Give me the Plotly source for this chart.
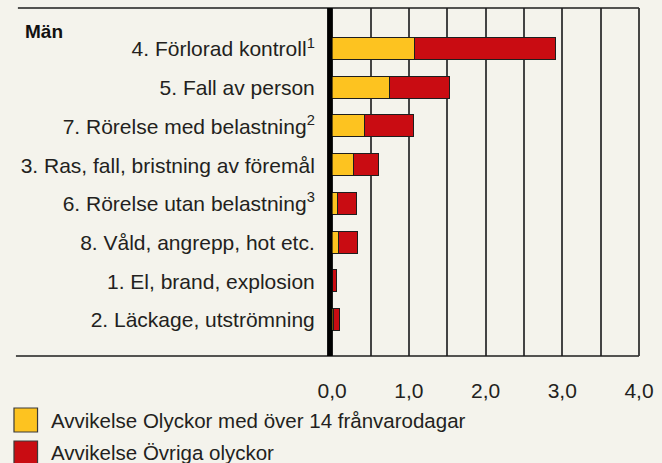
import plotly.graph_objects as go

categories = [
    "4. Förlorad kontroll<sup>1</sup>",
    "5. Fall av person",
    "7. Rörelse med belastning<sup>2</sup>",
    "3. Ras, fall, bristning av föremål",
    "6. Rörelse utan belastning<sup>3</sup>",
    "8. Våld, angrepp, hot etc.",
    "1. El, brand, explosion",
    "2. Läckage, utströmning",
]
over14 = [1.08, 0.755, 0.43, 0.285, 0.08, 0.09, 0.005, 0.02]
ovriga = [1.84, 0.785, 0.64, 0.325, 0.24, 0.245, 0.06, 0.08]
series_names = ["Avvikelse Olyckor med över 14 frånvarodagar", "Avvikelse Övriga olyckor"]
tick_vals = [0, 1, 2, 3, 4]
tick_text = ["0,0", "1,0", "2,0", "3,0", "4,0"]
group_title = "Män"

BG = "#f4f3ec"
YELLOW = "#fdc320"
RED = "#c90c12"
EDGE = "#1e1e1e"
TXT = "#231f20"
FONT = "Liberation Sans, Arial, sans-serif"

W, H = 662, 463
L, R, T, B = 326, 17, 8, 107
PW, PH = W - L - R, H - T - B

def px(x):
    return (x - L) / PW

def py(y):
    return (H - B - y) / PH

fig = go.Figure()
for vals, name, col in [(over14, series_names[0], YELLOW), (ovriga, series_names[1], RED)]:
    fig.add_trace(go.Bar(
        y=categories, x=vals, name=name, orientation="h",
        marker=dict(color=col, line=dict(color=EDGE, width=1.5)),
        width=0.57, showlegend=False,
    ))

shapes = []
shapes.append(dict(type="line", xref="paper", yref="paper", x0=px(12), x1=1, y0=1, y1=1,
                   line=dict(color=EDGE, width=1.6)))
shapes.append(dict(type="line", xref="paper", yref="paper", x0=px(10), x1=1, y0=0, y1=0,
                   line=dict(color=EDGE, width=1.6)))
shapes.append(dict(type="line", xref="paper", yref="paper", x0=1, x1=1, y0=0, y1=1,
                   line=dict(color="#333", width=1.8)))
shapes.append(dict(type="line", xref="x", yref="paper", x0=-0.03, x1=-0.03, y0=0, y1=1,
                   line=dict(color="black", width=5.5), layer="above"))
for i, col in enumerate([YELLOW, RED]):
    top = 408 + i * 33
    shapes.append(dict(type="rect", xref="paper", yref="paper",
                       x0=px(8), x1=px(32), y0=py(top + 24), y1=py(top),
                       fillcolor=col, line=dict(color="#3a3a3a", width=1.2)))

annotations = [
    dict(text=f"<b>{group_title}</b>", xref="paper", yref="paper", x=px(17), y=py(31),
         xanchor="left", yanchor="middle", showarrow=False, font=dict(size=19, color="#111", family=FONT)),
]
for i, name in enumerate(series_names):
    annotations.append(dict(text=name, xref="paper", yref="paper", x=px(44), y=py(421 + i * 31),
                            xanchor="left", yanchor="middle", showarrow=False,
                            font=dict(size=20.5, color=TXT, family=FONT)))

fig.update_layout(
    barmode="stack",
    width=W, height=H,
    margin=dict(l=L, r=R, t=T, b=B, pad=0),
    paper_bgcolor=BG, plot_bgcolor=BG,
    font=dict(family=FONT, color=TXT, size=21),
    shapes=shapes, annotations=annotations,
    bargap=0,
    xaxis=dict(
        range=[-0.08, 4.0], tickvals=tick_vals, ticktext=tick_text,
        showgrid=True, gridcolor="#444", gridwidth=1.6,
        minor=dict(dtick=0.5, tick0=0, showgrid=True, gridcolor="#444", gridwidth=1.6),
        zeroline=False, showline=False,
        ticks="outside", ticklen=16, tickcolor=BG, tickfont=dict(size=21),
        fixedrange=True,
    ),
    yaxis=dict(
        categoryorder="array", categoryarray=categories,
        range=[7.93, -1.06], showgrid=False, zeroline=False, showline=False,
        ticks="outside", ticklen=6, tickcolor=BG, tickfont=dict(size=21),
        fixedrange=True,
    ),
)

fig.write_html(
    "out.html",
    config={"displayModeBar": False, "responsive": False},
    post_script="document.body.style.margin='0';document.body.style.overflow='hidden';document.body.style.background='%s';" % BG,
)
